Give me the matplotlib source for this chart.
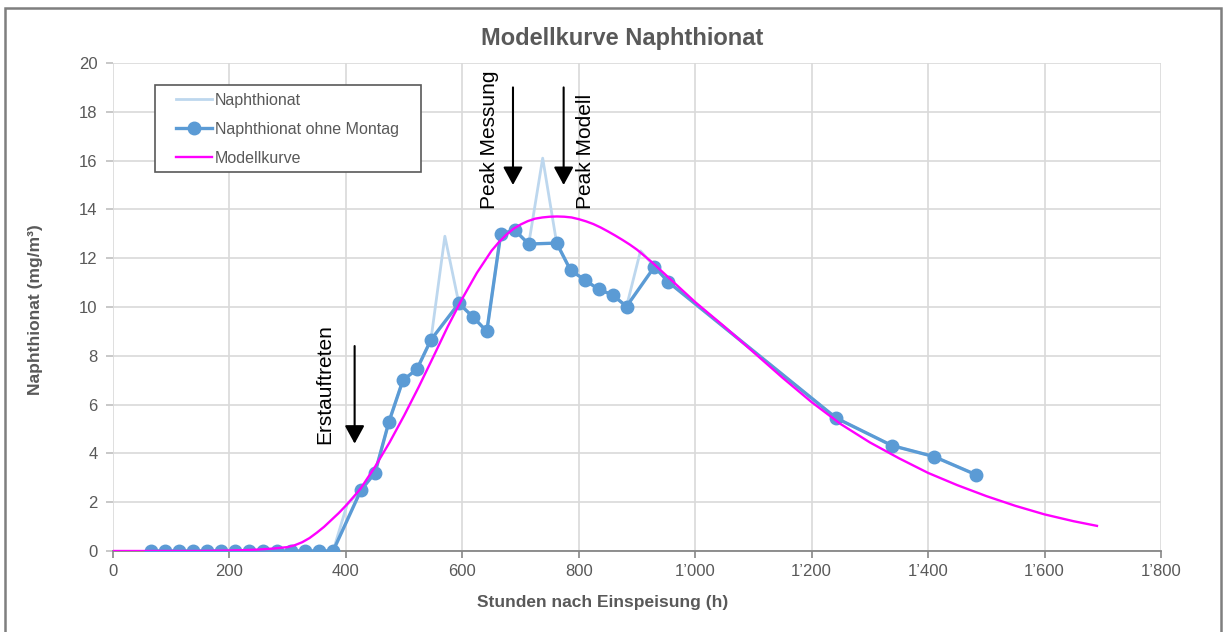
import matplotlib
matplotlib.use("Agg")
import matplotlib.pyplot as plt
from matplotlib.patches import Rectangle
from matplotlib.ticker import FuncFormatter, MultipleLocator

# --- data ---
# all measurements (incl. Mondays)
hours_all = [66, 90, 114, 138, 162, 186, 210, 234, 258, 282, 306, 330, 354, 378,
             402, 426, 450, 474, 498, 522, 546, 570, 594, 618, 642, 666, 690, 714,
             738, 762, 786, 810, 834, 858, 882, 906, 930, 954, 1242, 1338, 1410, 1482]
conc_all = [0, 0, 0, 0, 0, 0, 0, 0, 0, 0, 0, 0, 0, 0,
            1.9, 2.5, 3.2, 5.3, 7.0, 7.45, 8.65, 12.9, 10.15, 9.6, 9.0, 13.0, 13.15, 12.58,
            16.1, 12.62, 11.5, 11.12, 10.72, 10.5, 10.02, 12.3, 11.65, 11.02, 5.45, 4.32, 3.87, 3.13]

# measurements without Mondays
hours_ohne = [66, 90, 114, 138, 162, 186, 210, 234, 258, 282, 306, 330, 354, 378,
              426, 450, 474, 498, 522, 546, 594, 618, 642, 666, 690, 714,
              762, 786, 810, 834, 858, 882, 930, 954, 1242, 1338, 1410, 1482]
conc_ohne = [0, 0, 0, 0, 0, 0, 0, 0, 0, 0, 0, 0, 0, 0,
             2.5, 3.2, 5.3, 7.0, 7.45, 8.65, 10.15, 9.6, 9.0, 13.0, 13.15, 12.58,
             12.62, 11.5, 11.12, 10.72, 10.5, 10.02, 11.65, 11.02, 5.45, 4.32, 3.87, 3.13]

# model curve
model_hours = [0, 100, 150, 200, 225, 250, 275, 300, 312.5, 325, 337.5, 350, 362.5,
               375, 387.5, 400, 412.5, 425, 450, 475, 500, 525, 550, 575, 600, 625,
               650, 662.5, 675, 687.5, 700, 712.5, 725, 737.5, 750, 762.5, 775, 787.5,
               800, 812.5, 825, 837.5, 850, 862.5, 875, 887.5, 900, 925, 950, 975,
               1000, 1050, 1100, 1150, 1200, 1250, 1300, 1350, 1400, 1450, 1500,
               1550, 1600, 1650, 1690]
model_conc = [0, 0, 0.0, 0.02, 0.035, 0.06, 0.1, 0.16, 0.24, 0.36, 0.53, 0.75, 0.99,
              1.27, 1.55, 1.86, 2.2, 2.55, 3.45, 4.45, 5.55, 6.72, 7.95, 9.2, 10.35, 11.4,
              12.3, 12.65, 12.95, 13.2, 13.38, 13.52, 13.62, 13.67, 13.7, 13.71, 13.7, 13.67,
              13.6, 13.51, 13.4, 13.26, 13.1, 12.93, 12.75, 12.56, 12.35, 11.85, 11.3, 10.75,
              10.2, 9.2, 8.15, 7.1, 6.1, 5.2, 4.45, 3.8, 3.2, 2.7, 2.25,
              1.85, 1.5, 1.22, 1.03]

# annotations
annot_labels = ["Erstauftreten", "Peak Messung", "Peak Modell"]
annot_text_x = [364, 647, 811]
annot_text_y = [4.4, 14.0, 14.0]
arrow_x = [415, 687, 774]
arrow_top = [8.4, 19.0, 19.0]
arrow_tip = [4.4, 15.0, 15.0]

plt.rcParams['font.family'] = ['Liberation Sans', 'DejaVu Sans']
grey = '#595959'

fig = plt.figure(figsize=(12.26, 6.32), dpi=100)
ax = fig.add_axes([113 / 1226, 1 - 551 / 632, 1048 / 1226, 488 / 632])

ax.plot(hours_all, conc_all, color='#BDD7EE', lw=2, label='Naphthionat', zorder=2)
ax.plot(hours_ohne, conc_ohne, color='#5B9BD5', lw=2.4, marker='o', markersize=9,
        label='Naphthionat ohne Montag', zorder=3)
ax.plot(model_hours, model_conc, color='#FF00FF', lw=1.7, label='Modellkurve', zorder=4)

for lab, tx, ty, axx, atop, atip in zip(annot_labels, annot_text_x, annot_text_y,
                                        arrow_x, arrow_top, arrow_tip):
    ax.text(tx, ty, lab, rotation=90, ha='center', va='bottom', fontsize=15, color='black')
    ax.annotate('', xy=(axx, atip), xytext=(axx, atop),
                arrowprops=dict(arrowstyle='-|>,head_length=0.55,head_width=0.3',
                                mutation_scale=20, color='black', lw=1.5,
                                shrinkA=0, shrinkB=0))

ax.set_xlim(0, 1800)
ax.set_ylim(0, 20)
ax.xaxis.set_major_locator(MultipleLocator(200))
ax.yaxis.set_major_locator(MultipleLocator(2))
ax.xaxis.set_major_formatter(FuncFormatter(lambda v, p: f"{int(v):,}".replace(",", "\u2019")))
ax.grid(True, color='#D9D9D9', lw=1.2)
ax.set_axisbelow(True)

for s in ['top', 'right', 'left']:
    ax.spines[s].set_visible(False)
ax.spines['bottom'].set_color('#868686')
ax.spines['bottom'].set_linewidth(1.3)
ax.tick_params(axis='x', colors='#868686', labelcolor=grey, labelsize=12, length=5, width=1.2, pad=4)
ax.tick_params(axis='y', colors='#BFBFBF', labelcolor=grey, labelsize=12, length=5, width=1.2, pad=6)

ax.set_xlabel('Stunden nach Einspeisung (h)', fontsize=12.5, fontweight='bold', color=grey)
ax.xaxis.set_label_coords(0.4676, -0.106)
ax.xaxis.label.set_va('center')
ax.set_ylabel('Naphthionat (mg/m³)', fontsize=12.5, fontweight='bold', color=grey)
ax.yaxis.set_label_coords(-0.0744, 0.494)
ax.yaxis.label.set_va('center')

fig.text(622 / 1226, 1 - 38 / 632, 'Modellkurve Naphthionat', ha='center', va='center',
         fontsize=17, fontweight='bold', color=grey)

# legend box drawn separately (wider side padding than matplotlib allows)
ax.add_patch(Rectangle((42 / 1048, (551 - 172) / 488), 266 / 1048, 87 / 488,
                       transform=ax.transAxes, facecolor='white', edgecolor=grey,
                       lw=1.2, zorder=5))
leg = ax.legend(loc='upper left', bbox_to_anchor=(63 / 1048, (551 - 93) / 488), fontsize=11.5,
                frameon=False, handlelength=2.25, handletextpad=0.2, labelspacing=0.87,
                borderpad=0, borderaxespad=0)
leg.set_zorder(6)
for t in leg.get_texts():
    t.set_color(grey)

# chart area border
fig.patches.append(Rectangle((5 / 1226, -0.02), 1216 / 1226, 1 - 8 / 632 + 0.02,
                             transform=fig.transFigure, fill=False,
                             edgecolor='#7F7F7F', lw=1.8))

fig.savefig('out.png', dpi=100)
